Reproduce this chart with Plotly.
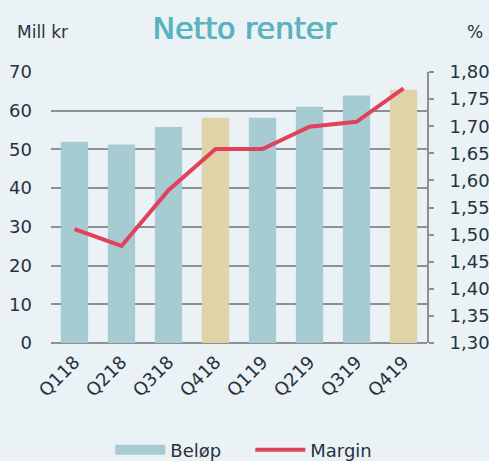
import plotly.graph_objects as go

quarters = ["Q118", "Q218", "Q318", "Q418", "Q119", "Q219", "Q319", "Q419"]
belop = [52.0, 51.3, 55.8, 58.2, 58.2, 61.0, 63.9, 65.4]
margin = [1.51, 1.479, 1.582, 1.658, 1.658, 1.699, 1.708, 1.77]

BLUE = "#a6cbd3"
TAN = "#e0d3a7"
bar_colors = [TAN if q.startswith("Q4") else BLUE for q in quarters]
TEXT = "#26333f"
GRID = "#8e9193"
FONT = "DejaVu Sans"
TITLE = "#5ab3bf"

fig = go.Figure()
fig.add_trace(go.Bar(x=quarters, y=belop, name="Beløp", marker=dict(color=bar_colors, line=dict(width=0)),
                     yaxis="y", showlegend=False))
# legend swatch for the bars (wide rectangle)
fig.add_trace(go.Scatter(x=[None], y=[None], name="Beløp", mode="lines",
                         line=dict(color=BLUE, width=12), yaxis="y"))
fig.add_trace(go.Scatter(x=quarters, y=margin, name="Margin", mode="lines",
                         line=dict(color="#e0425c", width=4), yaxis="y2"))
fig.update_layout(
    width=489, height=461,
    paper_bgcolor="#ebf2f5", plot_bgcolor="#ebf2f5",
    margin=dict(l=51, r=62, t=72, b=118, autoexpand=False),
    font=dict(family=FONT, size=18, color=TEXT),
    bargap=0.42,
    showlegend=True,
    legend=dict(orientation="h", x=0.53, xanchor="center", y=-0.395, yanchor="middle",
                font=dict(size=18, color=TEXT), itemwidth=50, traceorder="normal",
                entrywidth=75, entrywidthmode="pixels", bgcolor="rgba(0,0,0,0)"),
    title=dict(text="Netto renter", x=0.5, xanchor="center", y=0.939, yanchor="middle",
               font=dict(size=30, color=TITLE, family=FONT,
                         shadow=f"0.6px 0 0 {TITLE}, -0.3px 0 0 {TITLE}")),
    xaxis=dict(tickangle=-45, showgrid=False, showline=False, ticks="", automargin=False,
               tickfont=dict(size=18, color=TEXT), ticklabelstandoff=4),
    yaxis=dict(range=[0, 70], dtick=10, showgrid=True, gridcolor=GRID, gridwidth=1.5,
               showline=False, ticks="", zeroline=True, zerolinecolor=GRID, zerolinewidth=2,
               automargin=False, tickfont=dict(size=18, color=TEXT), ticklabelstandoff=18),
    yaxis2=dict(range=[1.30, 1.80], dtick=0.05, overlaying="y", side="right", showgrid=False,
                showline=True, linecolor=GRID, linewidth=2, ticks="outside", ticklen=5,
                tickcolor=GRID, tickwidth=2, tickformat=".2f", automargin=False,
                tickfont=dict(size=18, color=TEXT), zeroline=False, ticklabelstandoff=12),
    separators=", ",
)
fig.add_annotation(text="Mill kr", xref="paper", yref="paper", x=-0.096, y=1.0, yanchor="middle",
                   xanchor="left", yshift=40, showarrow=False, font=dict(size=17, color=TEXT))
fig.add_annotation(text="%", xref="paper", yref="paper", x=1.0, y=1.0, yanchor="middle",
                   xanchor="left", xshift=38, yshift=40, showarrow=False, font=dict(size=17, color=TEXT))
fig.write_html("out.html", config={"displayModeBar": False},
               post_script="document.body.style.margin='0';document.body.style.overflow='hidden';")
